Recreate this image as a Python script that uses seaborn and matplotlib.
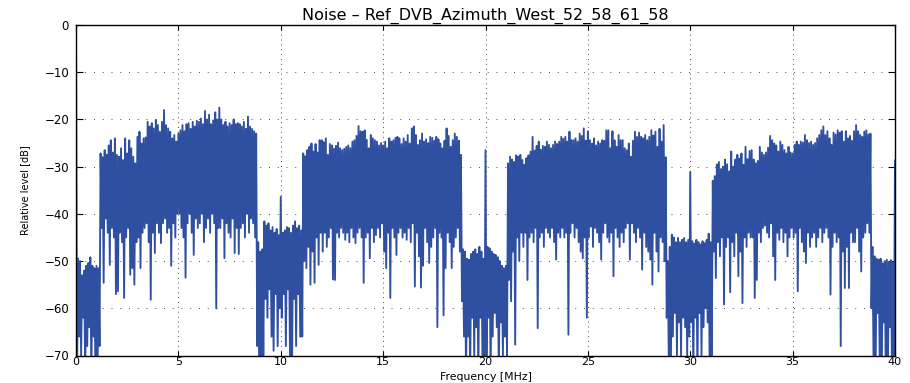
import numpy as np
import pandas as pd
import matplotlib
matplotlib.use("Agg")
import matplotlib.pyplot as plt
import seaborn as sns

# Spectrum levels in dB, one row per MHz, one value per 0.1 MHz bin.
# peak_db: highest level in each bin, trough_db: lowest level in each bin.
peak_db = [
    [0.0, -49.5, -50.0, -53.0, -52.0, -51.0, -50.4, -49.2, -51.0, -51.5],
    [-51.0, -51.5, -27.2, -28.0, -26.5, -27.5, -25.5, -24.4, -27.0, -24.0],
    [-27.5, -27.9, -26.1, -28.6, -24.0, -27.2, -24.4, -26.1, -27.9, -29.3],
    [-23.7, -22.6, -25.1, -24.0, -23.8, -20.5, -21.5, -20.8, -21.9, -20.1],
    [-21.2, -22.6, -20.5, -18.0, -21.2, -21.9, -22.6, -24.0, -23.3, -24.7],
    [-23.0, -22.3, -21.2, -22.5, -21.0, -20.8, -22.0, -20.5, -21.5, -20.3],
    [-20.5, -19.8, -21.0, -18.2, -20.0, -19.0, -21.0, -20.2, -18.5, -20.0],
    [-17.5, -20.0, -21.2, -20.5, -21.5, -20.8, -21.2, -20.0, -21.0, -20.8],
    [-21.0, -21.5, -20.5, -22.0, -19.4, -21.5, -22.0, -22.5, -23.0, -46.0],
    [-48.0, -47.5, -41.6, -42.5, -42.0, -43.5, -42.8, -44.0, -43.2, -44.5],
    [-36.4, -44.0, -43.5, -42.8, -43.0, -44.0, -42.5, -41.6, -43.0, -42.5],
    [-43.5, -27.2, -27.8, -26.5, -25.8, -25.1, -26.8, -25.2, -27.0, -24.4],
    [-24.4, -24.8, -24.0, -27.5, -25.2, -25.5, -26.2, -25.6, -24.9, -26.1],
    [-26.5, -26.2, -25.8, -25.5, -26.1, -24.7, -24.4, -23.5, -21.4, -22.5],
    [-22.6, -22.3, -24.3, -26.1, -23.3, -24.0, -24.4, -24.7, -25.5, -25.0],
    [-25.5, -24.7, -26.1, -24.0, -24.7, -24.4, -23.9, -23.7, -24.0, -25.2],
    [-24.0, -24.7, -23.3, -25.1, -21.9, -21.5, -23.3, -25.4, -24.4, -23.0],
    [-24.7, -24.2, -25.0, -23.7, -23.9, -24.5, -23.7, -24.2, -25.1, -26.1],
    [-24.5, -21.9, -23.5, -25.8, -24.4, -23.0, -23.7, -24.5, -27.5, -47.5],
    [-48.0, -49.5, -49.7, -48.5, -48.0, -47.5, -48.5, -47.0, -48.0, -49.5],
    [-26.5, -47.0, -47.3, -48.0, -48.5, -48.7, -49.2, -50.0, -51.0, -51.5],
    [-51.0, -29.3, -27.9, -28.5, -29.0, -27.6, -27.9, -27.5, -28.6, -29.6],
    [-28.2, -27.6, -26.8, -23.7, -26.6, -25.6, -24.7, -26.4, -25.6, -25.8],
    [-24.7, -25.4, -26.1, -25.4, -24.7, -25.2, -24.7, -23.7, -24.1, -23.7],
    [-24.7, -22.6, -24.4, -24.4, -24.0, -24.7, -23.0, -23.5, -21.9, -24.5],
    [-22.5, -24.4, -25.1, -24.0, -25.5, -24.7, -25.1, -24.4, -24.5, -22.3],
    [-22.3, -26.1, -22.5, -24.4, -25.8, -23.3, -24.4, -24.4, -26.1, -26.5],
    [-25.1, -27.9, -24.5, -22.6, -23.7, -22.8, -23.7, -24.0, -23.3, -24.4],
    [-23.7, -22.3, -23.4, -22.6, -25.8, -22.0, -24.7, -21.2, -28.0, -50.0],
    [-47.0, -44.4, -45.0, -46.0, -45.1, -46.0, -45.5, -45.1, -46.0, -45.5],
    [-31.1, -45.8, -46.3, -45.5, -46.0, -46.5, -45.8, -46.2, -45.5, -44.2],
    [-46.0, -33.0, -32.0, -29.5, -29.0, -30.5, -30.0, -28.5, -29.5, -31.0],
    [-26.8, -30.0, -28.5, -27.5, -28.3, -27.2, -29.6, -25.8, -28.4, -26.7],
    [-26.5, -28.5, -29.3, -28.8, -25.8, -27.0, -27.5, -27.0, -26.0, -23.5],
    [-24.4, -25.1, -25.5, -26.8, -24.7, -25.4, -26.5, -27.2, -25.8, -27.0],
    [-27.2, -25.4, -24.7, -25.4, -24.7, -24.9, -23.3, -24.4, -25.0, -24.7],
    [-25.4, -25.0, -24.0, -23.3, -22.3, -21.5, -23.3, -22.5, -24.0, -25.4],
    [-22.8, -23.2, -22.3, -22.8, -22.5, -24.7, -22.5, -24.0, -23.5, -24.5],
    [-22.5, -21.2, -22.5, -23.3, -23.7, -22.6, -22.3, -23.2, -23.0, -47.0],
    [-49.0, -49.5, -49.7, -49.5, -50.5, -50.0, -49.7, -50.2, -49.8, -50.3],
]
last_peak_db = -28.6  # sample at 40 MHz

trough_db = [
    [-75, -66, -70, -62, -75, -68, -64, -75, -66, -75],
    [-75, -68, -43, -54.6, -41, -44, -50.8, -43, -45, -57],
    [-56.4, -44, -46, -57.8, -45, -43, -52.9, -51.5, -55, -46],
    [-45, -51.5, -44, -43, -42, -46, -58.2, -44, -48.3, -42],
    [-44, -46.2, -42, -41, -44, -43, -51, -42, -45, -40],
    [-40, -43, -45, -53.5, -42, -40, -44, -48.7, -41, -43],
    [-42, -40, -46, -43, -41, -44, -40, -42, -60, -43],
    [-43, -41, -49.4, -42, -44, -45, -41, -48.3, -43, -48.5],
    [-43, -42, -45, -40, -44, -41, -42, -45, -68, -75],
    [-75, -70, -58, -62, -56, -66, -69, -57, -68, -60],
    [-62, -57, -68, -56, -70, -75, -58, -68, -57, -66],
    [-66, -50, -51.5, -47, -55, -48, -54.6, -45, -50.8, -44],
    [-48, -44, -47, -45, -43, -53.9, -54, -44, -45, -43],
    [-44, -45.5, -44, -46, -43, -45, -46.2, -44, -43, -45],
    [-54.6, -45, -44, -49.4, -43, -46, -44.5, -43, -45, -42],
    [-48, -51.5, -44, -57.8, -43, -45, -48.7, -44, -43, -45],
    [-44, -45.5, -43, -46, -42, -55.4, -44, -49, -55.6, -51],
    [-43, -46, -50.4, -47, -45, -43, -64, -44, -45, -61.5],
    [-51.5, -44, -46, -51.5, -47, -45, -43, -48, -58.5, -66],
    [-75, -66, -75, -62, -70, -64, -75, -62, -70, -75],
    [-70, -62, -75, -66, -61, -64, -75, -63, -70, -66],
    [-70, -54, -58.5, -48, -67.7, -45, -50, -44, -47, -44],
    [-54, -45, -44, -46, -43, -64.2, -45, -44, -47, -43],
    [-44, -45, -43, -46, -49.7, -44, -45, -43, -45, -44],
    [-65.6, -44, -42, -45, -43, -46, -48, -49.4, -45, -62],
    [-45, -42.7, -47, -43, -44, -46, -49.7, -44, -42, -45],
    [-46, -44, -53.2, -43, -45, -47, -44, -46, -43, -42],
    [-49.7, -42, -44, -46, -43, -45, -51.8, -44, -47, -48],
    [-49.7, -55, -44, -48, -52.2, -45, -46, -50, -62, -70],
    [-75, -66, -61, -70, -63, -70, -62, -64, -70, -66],
    [-63, -75, -62, -75, -61, -70, -64, -60, -63, -75],
    [-70, -48, -53.6, -46, -49, -45, -59.2, -47, -45, -56.6],
    [-46, -49, -44, -53.2, -48, -58.9, -45, -47, -44, -45],
    [-45, -57.8, -54, -44, -46, -43, -42.5, -44, -45, -42],
    [-49, -54, -44, -45.5, -43, -46, -44, -49, -45, -43],
    [-45, -44, -56.4, -43, -46, -48, -50.4, -44, -47, -45],
    [-44, -47, -45, -43, -46, -44, -43, -45, -57.1, -47],
    [-44, -46, -45, -68, -48, -55.7, -47, -55.7, -44, -46],
    [-46, -43, -48, -52.2, -45, -44, -42, -44, -60, -70],
    [-75, -61, -70, -75, -63, -75, -75, -64, -72, -70],
]

bin_width_mhz = 0.1
x_ticks = [0, 5, 10, 15, 20, 25, 30, 35, 40]
y_ticks = [-70, -60, -50, -40, -30, -20, -10, 0]

# Alternate peak / trough of each bin so the trace sweeps through every bin
peaks = np.concatenate(peak_db)
troughs = np.concatenate(trough_db).astype(float)
n_bins = len(peaks)
bin_start = np.arange(n_bins) * bin_width_mhz
freq = np.empty(2 * n_bins + 1)
level = np.empty(2 * n_bins + 1)
freq[0:-1:2] = bin_start
freq[1::2] = bin_start + bin_width_mhz / 2
freq[-1] = n_bins * bin_width_mhz
level[0:-1:2] = peaks
level[1::2] = troughs
level[-1] = last_peak_db
spectrum = pd.DataFrame({"Frequency": freq, "Level": level})

sns.set_theme(style="white")
plt.rcParams["font.family"] = ["DejaVu Sans"]
plt.rcParams["axes.unicode_minus"] = True

fig = plt.figure(figsize=(9.10, 3.83), dpi=100)
ax = fig.add_axes([76 / 910, 1 - 355.5 / 383, 819 / 910, 330.5 / 383])

sns.lineplot(data=spectrum, x="Frequency", y="Level", sort=False,
             estimator=None, color="#2f4fa0", linewidth=1.35, ax=ax)

ax.set_xlim(0, 40)
ax.set_ylim(-70, 0)
ax.set_xticks(x_ticks)
ax.set_yticks(y_ticks)

ax.set_axisbelow(True)
ax.xaxis.grid(True, color="0.3", linewidth=0.7, linestyle=(0, (1, 4)))
ax.yaxis.grid(True, color="0.3", linewidth=0.7, linestyle=(0, (1, 8)))

for side in ["left", "right", "top", "bottom"]:
    ax.spines[side].set_visible(True)
    ax.spines[side].set_color("black")
    ax.spines[side].set_linewidth(1.0)

ax.tick_params(axis="both", direction="in", top=True, right=True,
               bottom=True, left=True, colors="black", labelsize=8.5)
ax.tick_params(axis="x", length=3.6, width=0.8, pad=1.0, labelsize=8)
ax.tick_params(axis="y", length=5, width=0.8, pad=5)

ax.set_title("Noise \u2013 Ref_DVB_Azimuth_West_52_58_61_58",
             fontsize=11.5, pad=4.0, color="black")
ax.set_xlabel("Frequency [MHz]", fontsize=7.8, color="black", va="bottom")
ax.set_ylabel("Relative level [dB]", fontsize=7, color="black")
ax.xaxis.set_label_coords(0.5, -0.0815)
ax.yaxis.set_label_coords(-0.056, 0.5)

fig.savefig("out.png", dpi=100)
